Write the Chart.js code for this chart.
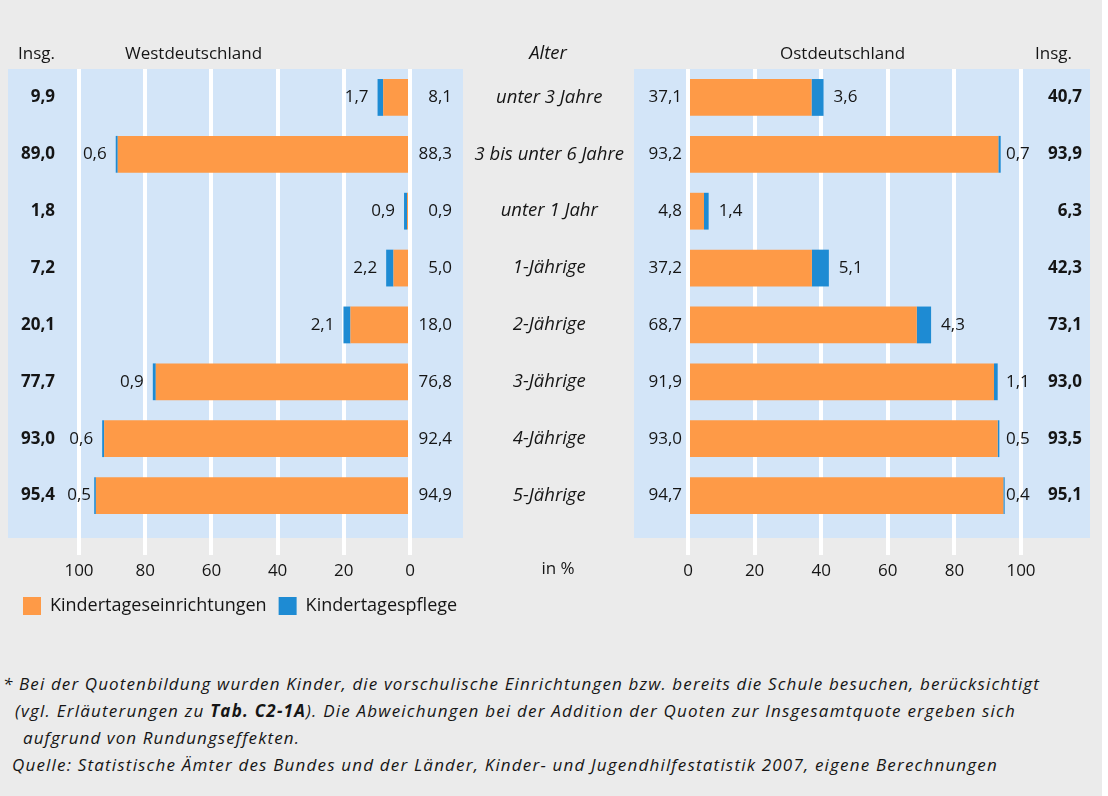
<!DOCTYPE html>
<html><head><meta charset="utf-8">
<script src="https://cdn.jsdelivr.net/npm/chart.js@4.4.1/dist/chart.umd.min.js"></script>
<style>
html,body{margin:0;padding:0;background:#fff;}
#wrap{position:relative;width:1102px;height:796px;background:#ebebeb;overflow:hidden;font-family:"Open Sans",sans-serif;color:#151515;}
canvas{position:absolute;top:0;}
.t{position:absolute;font-size:17px;line-height:20px;white-space:nowrap;}
.fn{position:absolute;font-size:17px;line-height:27px;font-style:italic;white-space:nowrap;}
</style></head><body>
<div id="wrap">
<canvas id="west" width="520" height="634" style="left:0px"></canvas>
<canvas id="ost" width="648" height="600" style="left:460px"></canvas>
<div class="t" style="left:18px;top:43px">Insg.</div>
<div class="t" style="left:125px;top:43px">Westdeutschland</div>
<div class="t" style="left:548px;top:42px;transform:translateX(-50%);font-style:italic;font-size:18.5px">Alter</div>
<div class="t" style="left:780px;top:43px">Ostdeutschland</div>
<div class="t" style="left:1035px;top:43px">Insg.</div>
<div class="t" style="left:558px;top:558px;transform:translateX(-50%)">in %</div>
<div class="fn" style="left:3px;top:670px">* Bei der Quotenbildung wurden Kinder, die vorschulische Einrichtungen bzw. bereits die Schule besuchen, berücksichtigt</div>
<div class="fn" style="left:15px;top:697px">(vgl. Erläuterungen zu <b>Tab. C2-1A</b>). Die Abweichungen bei der Addition der Quoten zur Insgesamtquote ergeben sich</div>
<div class="fn" style="left:23px;top:724px">aufgrund von Rundungseffekten.</div>
<div class="fn" style="left:12px;top:751px">Quelle: Statistische Ämter des Bundes und der Länder, Kinder- und Jugendhilfestatistik 2007, eigene Berechnungen</div>
</div>
<script>
const categories = ['unter 3 Jahre','3 bis unter 6 Jahre','unter 1 Jahr','1-Jährige','2-Jährige','3-Jährige','4-Jährige','5-Jährige'];
const westEinrichtungen = [8.1, 88.3, 0.9, 5.0, 18.0, 76.8, 92.4, 94.9];
const westPflege        = [1.7, 0.6, 0.9, 2.2, 2.1, 0.9, 0.6, 0.5];
const westInsg          = [9.9, 89.0, 1.8, 7.2, 20.1, 77.7, 93.0, 95.4];
const ostEinrichtungen  = [37.1, 93.2, 4.8, 37.2, 68.7, 91.9, 93.0, 94.7];
const ostPflege         = [3.6, 0.7, 1.4, 5.1, 4.3, 1.1, 0.5, 0.4];
const ostInsg           = [40.7, 93.9, 6.3, 42.3, 73.1, 93.0, 93.5, 95.1];
const xTicks = [0, 20, 40, 60, 80, 100];
const seriesNames = ['Kindertageseinrichtungen', 'Kindertagespflege'];

const FONT = '"Open Sans", sans-serif';
const TXT = '#151515';
const ORANGE = '#fe9a47';
const BLUE = '#1e8bd3';
const PANEL = '#d3e5f8';
const fmt = v => v.toFixed(1).replace('.', ',');

function xScale(reverse, h) {
  return {
    type: 'linear', min: 0, max: 100, reverse: reverse, stacked: true,
    afterFit: s => { s.height = h; },
    afterBuildTicks: s => { s.ticks = xTicks.map(v => ({value: v})); },
    grid: {color: '#ffffff', lineWidth: 4, tickLength: 31, drawOnChartArea: true},
    border: {display: false},
    ticks: {padding: 6, color: TXT, font: {family: FONT, size: 17}, callback: v => String(v)}
  };
}
function fixWidth(w) {
  return s => { s.width = w; s.paddingTop = 0; s.paddingBottom = 0; };
}
function hiddenY(pos, w) {
  return {type: 'category', position: pos, stacked: true, afterFit: fixWidth(w),
          ticks: {display: false}, grid: {display: false, drawTicks: false}, border: {display: false}};
}
function datasets(a, b) {
  return [
    {label: seriesNames[0], data: a, backgroundColor: ORANGE, borderWidth: 0, categoryPercentage: 1, barPercentage: 0.647},
    {label: seriesNames[1], data: b, backgroundColor: BLUE, borderWidth: 0, categoryPercentage: 1, barPercentage: 0.647}
  ];
}
function panelPlugin(dl, dr) {
  return {
    id: 'panel',
    beforeDraw(chart) {
      const {ctx, chartArea: a} = chart;
      ctx.save();
      ctx.fillStyle = PANEL;
      ctx.fillRect(a.left - dl, a.top, (a.right + dr) - (a.left - dl), a.bottom + 14 - a.top);
      ctx.restore();
    }
  };
}

const westLabels = {
  id: 'westLabels',
  afterDatasetsDraw(chart) {
    const {ctx, chartArea: a} = chart;
    const y = chart.scales.y;
    const m1 = chart.getDatasetMeta(1);
    ctx.save();
    ctx.fillStyle = TXT; ctx.textBaseline = 'middle'; ctx.textAlign = 'right';
    categories.forEach((c, i) => {
      const py = y.getPixelForValue(i);
      ctx.font = 'bold 17px ' + FONT;
      ctx.fillText(fmt(westInsg[i]), a.left - 24, py);
      ctx.font = '17px ' + FONT;
      ctx.fillText(fmt(westEinrichtungen[i]), a.right + 42, py);
      const end = m1.data[i].x;
      ctx.fillText(fmt(westPflege[i]), Math.max(end - 9, a.left + 12), py);
    });
    ctx.restore();
  }
};
const ostLabels = {
  id: 'ostLabels',
  afterDatasetsDraw(chart) {
    const {ctx, chartArea: a} = chart;
    const y = chart.scales.y;
    const m1 = chart.getDatasetMeta(1);
    ctx.save();
    ctx.fillStyle = TXT; ctx.textBaseline = 'middle';
    categories.forEach((c, i) => {
      const py = y.getPixelForValue(i);
      ctx.font = '17px ' + FONT;
      ctx.textAlign = 'right';
      ctx.fillText(fmt(ostEinrichtungen[i]), a.left - 6, py);
      ctx.textAlign = 'left';
      const end = m1.data[i].x;
      ctx.fillText(fmt(ostPflege[i]), Math.min(end + 10, a.right - 15), py);
      ctx.font = 'bold 17px ' + FONT;
      ctx.textAlign = 'right';
      ctx.fillText(fmt(ostInsg[i]), a.right + 61, py);
    });
    ctx.restore();
  }
};

const AREA_TOP = 69, AREA_H = 455;

new Chart(document.getElementById('west'), {
  type: 'bar',
  data: {labels: categories, datasets: datasets(westEinrichtungen, westPflege)},
  options: {
    indexAxis: 'y', responsive: false, animation: false, events: [],
    layout: {padding: {left: 11, right: 0, top: AREA_TOP, bottom: 634 - AREA_TOP - AREA_H - 61 - 40}},
    scales: {
      x: xScale(true, 61),
      y: hiddenY('left', 68),
      y2: hiddenY('right', 110)
    },
    plugins: {
      tooltip: {enabled: false},
      legend: {display: true, position: 'bottom', align: 'start',
        labels: {boxWidth: 18, boxHeight: 18, padding: 12, color: TXT, font: {family: FONT, size: 18}}}
    }
  },
  plugins: [panelPlugin(71, 53), westLabels]
});

new Chart(document.getElementById('ost'), {
  type: 'bar',
  data: {labels: categories, datasets: datasets(ostEinrichtungen, ostPflege)},
  options: {
    indexAxis: 'y', responsive: false, animation: false, events: [],
    layout: {padding: {left: 0, right: 87, top: AREA_TOP, bottom: 600 - AREA_TOP - AREA_H - 54}},
    scales: {
      x: xScale(false, 54),
      y: {type: 'category', stacked: true, position: 'left', afterFit: fixWidth(228),
          ticks: {crossAlign: 'center', padding: 64, autoSkip: false, color: TXT,
                  font: {family: FONT, size: 18.5, style: 'italic'}},
          grid: {display: false, drawTicks: false}, border: {display: false}}
    },
    plugins: {tooltip: {enabled: false}, legend: {display: false}}
  },
  plugins: [panelPlugin(54, 69), ostLabels]
});

const fnTargets = [1040, 1016, 300, 998];
document.querySelectorAll('.fn').forEach((el, i) => {
  const r = el.getBoundingClientRect();
  const n = el.textContent.length;
  el.style.letterSpacing = ((fnTargets[i] - r.right) / n) + 'px';
});
</script>
</body></html>
